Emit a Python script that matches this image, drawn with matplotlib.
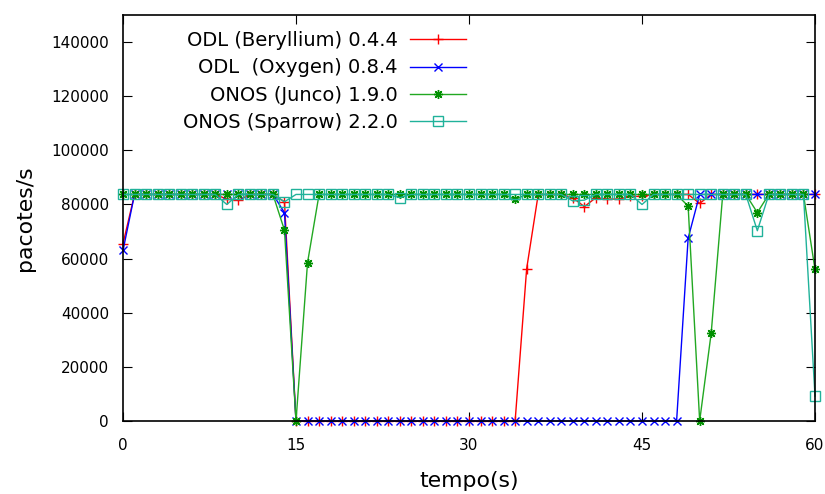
import matplotlib
matplotlib.use('Agg')
import matplotlib.pyplot as plt
import numpy as np

t = np.arange(0, 61)
H = 83700  # nivel estavel

#            t=0..9 / 10..19 / ... / 60
beryllium = [65500, H, H, H, H, H, H, H, H, 82000,
             81500, H, H, H, 81000, 0, 0, 0, 0, 0,
             0, 0, 0, 0, 0, 0, 0, 0, 0, 0,
             0, 0, 0, 0, 0, 56300, H, H, H, 82500,
             79200, 82500, 82000, 82000, 83000, 83000, H, H, H, H,
             80400, H, H, H, H, H, H, H, H, H,
             H]
oxygen = [63000, H, H, H, H, H, H, H, H, H,
          H, H, H, H, 77000, 0, 0, 0, 0, 0,
          0, 0, 0, 0, 0, 0, 0, 0, 0, 0,
          0, 0, 0, 0, 0, 0, 0, 0, 0, 0,
          0, 0, 0, 0, 0, 0, 0, 0, 0, 67500,
          H, H, H, H, H, H, H, H, H, H,
          H]
junco = [H, H, H, H, H, H, H, H, H, H,
         H, H, H, H, 70500, 0, 58500, H, H, H,
         H, H, H, H, H, H, H, H, H, H,
         H, H, H, H, 81900, H, H, H, H, H,
         H, H, H, H, H, H, H, H, H, 79400,
         0, 32500, H, H, H, 77000, H, H, H, H,
         56000]
sparrow = [H, H, H, H, H, H, H, H, H, 80000,
           H, H, H, H, 81000, H, H, H, H, H,
           H, H, H, H, 82500, H, H, H, H, H,
           H, H, H, H, H, H, H, H, H, 81300,
           81600, H, H, H, H, 80000, H, H, H, H,
           H, H, H, H, H, 70300, H, H, H, H,
           9200]

fig = plt.figure(figsize=(8.25, 4.94), dpi=100)
ax = fig.add_axes([123/825, 1 - 421/494, (815-123)/825, (421-15)/494])

ax.plot(t, beryllium, color='#ff0000', lw=1, marker='+', ms=7, mew=1,
        label='ODL (Beryllium) 0.4.4', clip_on=False)
ax.plot(t, oxygen, color='#0000ff', lw=1, marker='x', ms=6, mew=1,
        label='ODL  (Oxygen) 0.8.4', clip_on=False)
ax.plot(t, junco, color='#22a822', lw=1, marker=(8, 2, 0), ms=6.5, mew=1,
        mec='#009000', label='ONOS (Junco) 1.9.0', clip_on=False)
ax.plot(t, sparrow, color='#20b29a', lw=1, marker='s', ms=6.5, mew=1,
        mfc='none', label='ONOS (Sparrow) 2.2.0', clip_on=False)

ax.set_xlim(0, 60)
ax.set_ylim(0, 150000)
ax.set_xticks([0, 15, 30, 45, 60])
ax.set_yticks(np.arange(0, 140001, 20000))
ax.tick_params(direction='in', top=True, right=True, length=6.5, labelsize=11)
ax.tick_params(axis='x', pad=12)
ax.tick_params(axis='y', pad=10)
for s in ax.spines.values():
    s.set_linewidth(1.2)
ax.set_xlabel('tempo(s)', fontsize=15.8, labelpad=13)
ax.set_ylabel('pacotes/s', fontsize=15.8, labelpad=12)

leg = ax.legend(loc='upper left', bbox_to_anchor=(0.0867, 0.96), frameon=False,
                markerfirst=False, fontsize=14, handlelength=2.9,
                handletextpad=0.6, labelspacing=0.42, borderpad=0,
                borderaxespad=0)

plt.savefig('out.png', dpi=100)
